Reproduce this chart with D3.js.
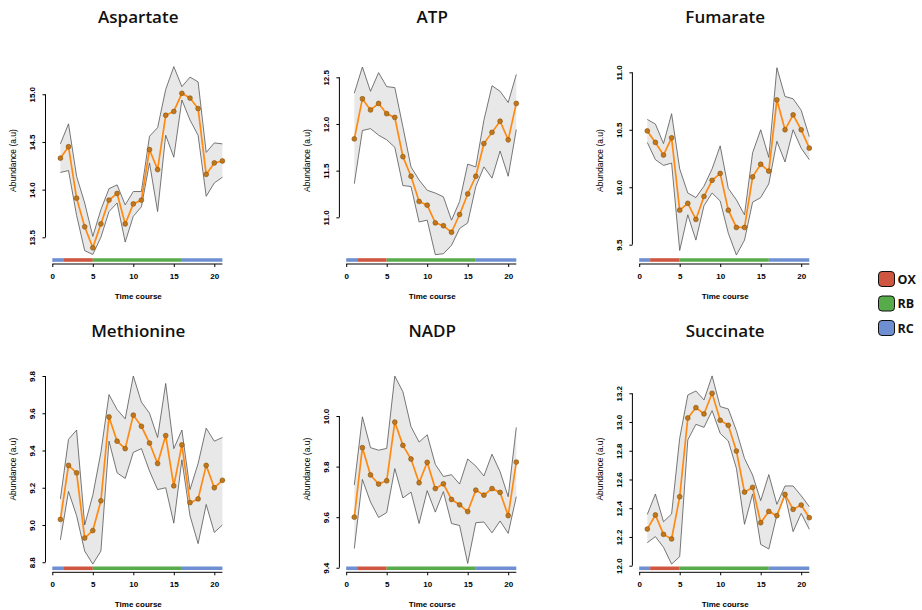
<!DOCTYPE html>
<html><head><meta charset="utf-8">
<script src="https://cdn.jsdelivr.net/npm/d3@7"></script>
<style>body{margin:0;background:#fff}svg{display:block}</style>
</head><body><svg id="c" width="922" height="610"></svg>
<script>
const timePoints = d3.range(1, 22);
const metabolites = ["Aspartate","ATP","Fumarate","Methionine","NADP","Succinate"];
const aspartateMean = [14.33,14.45,13.91,13.61,13.39,13.64,13.89,13.96,13.64,13.85,13.89,14.42,14.21,14.78,14.82,15.01,14.96,14.85,14.16,14.28,14.30];
const aspartateUpper = [14.48,14.69,14.14,13.86,13.51,13.79,14.01,14.05,13.84,13.98,13.98,14.56,14.65,15.05,15.29,15.08,15.18,15.13,14.39,14.49,14.48];
const aspartateLower = [14.18,14.20,13.73,13.36,13.32,13.50,13.77,13.86,13.45,13.72,13.82,14.28,13.77,14.57,14.34,14.94,14.73,14.57,13.93,14.07,14.13];
const atpMean = [11.84,12.27,12.15,12.22,12.11,12.07,11.65,11.44,11.17,11.13,10.94,10.91,10.84,11.03,11.25,11.44,11.79,11.91,12.03,11.83,12.22];
const atpUpper = [12.33,12.61,12.35,12.55,12.40,12.39,11.97,11.54,11.40,11.29,11.26,11.22,10.97,11.17,11.57,11.54,12.04,12.41,12.35,12.23,12.53];
const atpLower = [11.36,11.93,11.95,11.88,11.83,11.75,11.34,11.33,10.95,10.97,10.60,10.61,10.70,10.88,10.94,11.33,11.54,11.42,11.71,11.44,11.94];
const fumarateMean = [10.49,10.39,10.28,10.43,9.80,9.86,9.72,9.92,10.06,10.12,9.80,9.65,9.65,10.09,10.20,10.14,10.76,10.50,10.63,10.50,10.34];
const fumarateUpper = [10.59,10.55,10.38,10.64,10.16,9.95,9.91,10.01,10.16,10.36,9.99,9.89,9.76,10.30,10.50,10.26,11.04,10.79,10.77,10.67,10.44];
const fumarateLower = [10.39,10.24,10.19,10.21,9.45,9.76,9.54,9.84,9.95,9.88,9.60,9.41,9.54,9.87,9.91,10.03,10.40,10.22,10.50,10.34,10.24];
const methionineMean = [9.03,9.32,9.28,8.93,8.97,9.13,9.58,9.45,9.41,9.59,9.53,9.44,9.33,9.48,9.21,9.43,9.12,9.14,9.32,9.20,9.24];
const methionineUpper = [9.14,9.46,9.51,9.00,9.16,9.39,9.70,9.62,9.57,9.80,9.66,9.60,9.47,9.76,9.41,9.51,9.19,9.33,9.52,9.45,9.47];
const methionineLower = [8.92,9.18,9.05,8.86,8.79,8.86,9.45,9.28,9.25,9.39,9.41,9.29,9.19,9.20,9.01,9.35,9.05,8.90,9.11,8.96,9.00];
const nadpMean = [9.60,9.875,9.767,9.731,9.744,9.976,9.884,9.830,9.736,9.817,9.713,9.732,9.670,9.649,9.622,9.707,9.687,9.713,9.698,9.606,9.818];
const nadpUpper = [9.727,9.997,9.875,9.865,9.872,10.158,10.096,9.958,9.897,9.926,9.809,9.761,9.768,9.731,9.830,9.802,9.763,9.849,9.780,9.681,9.955];
const nadpLower = [9.476,9.749,9.660,9.599,9.618,9.792,9.676,9.699,9.575,9.705,9.620,9.701,9.575,9.567,9.417,9.578,9.581,9.538,9.585,9.536,9.681];
const succinateMean = [12.255,12.353,12.218,12.186,12.480,13.028,13.100,13.056,13.200,13.012,12.977,12.798,12.512,12.545,12.299,12.378,12.348,12.496,12.392,12.422,12.334];
const succinateUpper = [12.357,12.499,12.306,12.360,12.887,13.188,13.216,13.154,13.321,13.107,13.091,12.940,12.747,12.631,12.453,12.634,12.427,12.555,12.555,12.487,12.411];
const succinateLower = [12.160,12.202,12.128,12.011,12.063,12.875,12.984,12.963,13.079,12.921,12.868,12.678,12.288,12.499,12.148,12.116,12.353,12.492,12.237,12.364,12.253];

const meanSeries = [aspartateMean, atpMean, fumarateMean, methionineMean, nadpMean, succinateMean];
const upperSeries = [aspartateUpper, atpUpper, fumarateUpper, methionineUpper, nadpUpper, succinateUpper];
const lowerSeries = [aspartateLower, atpLower, fumarateLower, methionineLower, nadpLower, succinateLower];
const yTickLabels = [
  ["13.5","14.0","14.5","15.0"],
  ["11.0","11.5","12.0","12.5"],
  ["9.5","10.0","10.5","11.0"],
  ["8.8","9.0","9.2","9.4","9.6","9.8"],
  ["9.4","9.6","9.8","10.0"],
  ["12.0","12.2","12.4","12.6","12.8","13.0","13.2"]
];
const yLimits = [[13.22,15.37],[10.5,12.696],[9.332,11.116],[8.746,9.843],[9.382,10.19],[11.954,13.376]];
const xTickLabels = ["0","5","10","15","20"];
const phaseNames = ["OX","RB","RC"];
const phaseColors = {OX:"#cf5641", RB:"#58ab4b", RC:"#6e8fd2"};
const phaseSegments = [["RC",0,1.35],["OX",1.35,5],["RB",5,16],["RC",16,21]];

// layout
const colX0 = [52.3, 346.2, 639.2];
const unitPx = 8.1;
const rows = [{top:59, bottom:264, title:23},{top:368, bottom:572.3, title:337}];

const svg = d3.select("#c");

metabolites.forEach((name, i) => {
  const col = i % 3, row = Math.floor(i / 3);
  const R = rows[row];
  const x0 = colX0[col];
  const x = d3.scaleLinear().domain([0, 1]).range([x0, x0 + unitPx]);
  const y = d3.scaleLinear().domain(yLimits[i]).range([R.bottom, R.top]);
  const g = svg.append("g");
  const axisX = x(-0.84);

  // title
  g.append("text").attr("x", x0 + 86).attr("y", R.title)
    .attr("text-anchor","middle").attr("font-family","'Open Sans', sans-serif")
    .attr("font-weight", 600).attr("font-size", 17).attr("fill","#111").text(name);

  const pts = timePoints.map((t, k) => ({t, m: meanSeries[i][k], u: upperSeries[i][k], l: lowerSeries[i][k]}));

  // band
  g.append("path").datum(pts)
    .attr("d", d3.area().x(d => x(d.t)).y0(d => y(d.l)).y1(d => y(d.u)))
    .attr("fill","#e8e8e8").attr("stroke","none");
  g.append("path").datum(pts).attr("d", d3.line().x(d => x(d.t)).y(d => y(d.u)))
    .attr("fill","none").attr("stroke","#555").attr("stroke-width",0.8);
  g.append("path").datum(pts).attr("d", d3.line().x(d => x(d.t)).y(d => y(d.l)))
    .attr("fill","none").attr("stroke","#555").attr("stroke-width",0.8);

  // mean line
  g.append("path").datum(pts).attr("d", d3.line().x(d => x(d.t)).y(d => y(d.m)))
    .attr("fill","none").attr("stroke","#ff8a12").attr("stroke-width",1.7);
  g.selectAll("circle.pt").data(pts).join("circle").attr("class","pt")
    .attr("cx", d => x(d.t)).attr("cy", d => y(d.m)).attr("r", 2.4)
    .attr("fill","#c47719").attr("stroke","#80500e").attr("stroke-width",0.6);

  // phase bar
  g.selectAll("line.phase").data(phaseSegments).join("line").attr("class","phase")
    .attr("x1", d => x(d[1])).attr("x2", d => x(d[2]))
    .attr("y1", R.bottom - 4).attr("y2", R.bottom - 4)
    .attr("stroke", d => phaseColors[d[0]]).attr("stroke-width", 3.6);

  // x axis
  const xa = g.append("g").attr("transform", `translate(0,${R.bottom})`)
    .call(d3.axisBottom(x).tickValues(xTickLabels.map(Number)).tickSize(3).tickPadding(6).tickFormat(d3.format("d")));
  xa.select(".domain").remove();
  xa.append("line").attr("x1", x(0)).attr("x2", x(21)).attr("stroke","#000").attr("stroke-width",1);
  xa.selectAll(".tick line").attr("stroke","#000");
  xa.selectAll("text").attr("font-family","'Liberation Sans', Arial, sans-serif")
    .attr("font-weight","bold").attr("font-size",8).attr("fill","#000");
  g.append("text").attr("x", x0 + 86).attr("y", R.bottom + 35).attr("text-anchor","middle")
    .attr("font-family","'Liberation Sans', Arial, sans-serif").attr("font-weight","bold")
    .attr("font-size",8).text("Time course");

  // y axis
  const yVals = yTickLabels[i].map(Number);
  const ya = g.append("g").attr("transform", `translate(${axisX},0)`)
    .call(d3.axisLeft(y).tickValues(yVals).tickSize(3).tickFormat((d, k) => yTickLabels[i][k]));
  ya.select(".domain").remove();
  ya.append("line").attr("y1", y(yVals[0])).attr("y2", y(yVals[yVals.length-1])).attr("stroke","#000");
  ya.selectAll(".tick line").attr("stroke","#000");
  ya.selectAll(".tick text").attr("x", null).attr("dy", null)
    .attr("transform","translate(-13,0) rotate(-90)")
    .attr("text-anchor","middle").attr("dominant-baseline","central")
    .attr("font-family","'Liberation Sans', Arial, sans-serif").attr("font-weight","bold")
    .attr("font-size",8).attr("fill","#000");
  g.append("text").attr("transform", `translate(${x0 - 39},${(R.top + R.bottom)/2 - 1}) rotate(-90)`)
    .attr("text-anchor","middle").attr("dominant-baseline","central")
    .attr("font-family","'Liberation Sans', Arial, sans-serif").attr("font-size",8.5)
    .text("Abundance (a.u)");
});

// legend
const leg = svg.append("g");
phaseNames.forEach((p, k) => {
  const yy = 271.5 + k * 24.5;
  leg.append("rect").attr("x", 878.5).attr("y", yy).attr("width", 16).attr("height", 15)
    .attr("rx", 3.5).attr("fill", phaseColors[p]).attr("stroke","#111").attr("stroke-width",1);
  leg.append("text").attr("x", 897.5).attr("y", yy + 7.5).attr("dominant-baseline","central")
    .attr("font-family","'Open Sans', sans-serif").attr("font-weight",700).attr("font-size",12.5)
    .attr("fill","#111").text(p);
});
</script></body></html>
